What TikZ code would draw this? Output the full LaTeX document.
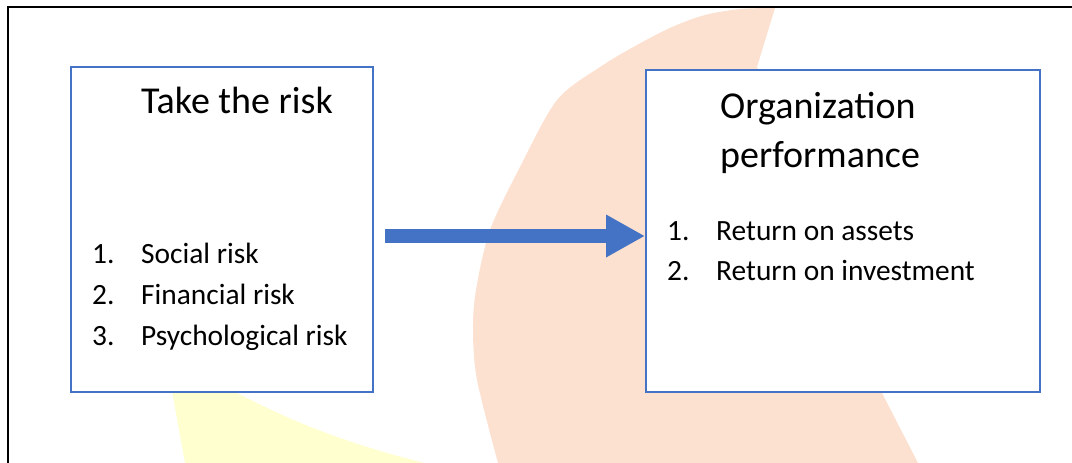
\documentclass[tikz,border=0pt]{standalone}
\usepackage{fontspec}
\setmainfont{Carlito}
\usetikzlibrary{arrows.meta}
\definecolor{boxblue}{HTML}{4472C4}
\definecolor{peach}{HTML}{FDE1D0}
\definecolor{paleyellow}{HTML}{FFFFD0}
\tikzset{
  box/.style={draw=boxblue, line width=2pt, fill=white, inner sep=0pt},
  titletext/.style={anchor=base west, inner sep=0pt, font=\fontsize{38}{45}\selectfont},
  itemtext/.style={anchor=base west, inner sep=0pt, font=\fontsize{29.4}{35}\selectfont},
  bigarrow/.style={draw=boxblue, line width=14pt, -{Triangle[length=39pt,width=40pt]}},
  frameline/.style={draw=black, line width=1.6pt}
}
\begin{document}
\begin{tikzpicture}[x=1pt,y=-1pt]
\useasboundingbox (0,0) rectangle (1072,463);
% watermark shapes
\fill[paleyellow] (170,380) -- (185,463) -- (425,463)
  .. controls (330,440) and (270,410) .. (237,393) -- (237,380) -- cycle;
\fill[peach] plot[smooth] coordinates {(775,8) (740,9) (705,15) (672,27) (637,45) (600,67) (557,100) (520,167) (490,230) (476,290) (473,330) (477,380) (498,463)}
  -- (918,463) -- (882,393) -- (757,67) -- cycle;
% frame
\coordinate (fbl) at (8,463);
\coordinate (ftl) at (8,7);
\coordinate (ftr) at (1072,7);
\draw[frameline] (fbl) -- (ftl) -- (ftr);
% boxes
\node[box, minimum width=302pt, minimum height=325pt] (L) at (222,229.5) {};
\node[box, minimum width=394pt, minimum height=322pt] (R) at (843,231) {};
% left texts
\node[titletext] (lt) at (141,113) {Take the risk};
\node[itemtext] (ln1) at (92,263) {1.};
\node[itemtext] (li1) at (141,263) {Social risk};
\node[itemtext] (ln2) at (92,304) {2.};
\node[itemtext] (li2) at (141,304) {Financial risk};
\node[itemtext] (ln3) at (92,345) {3.};
\node[itemtext] (li3) at (141,345) {Psychological risk};
% right texts
\node[titletext] (rt1) at (720,118) {Organization};
\node[titletext] (rt2) at (720,167) {performance};
\node[itemtext] (rn1) at (667,240) {1.};
\node[itemtext] (ri1) at (716,240) {Return on assets};
\node[itemtext] (rn2) at (667,280) {2.};
\node[itemtext] (ri2) at (716,280) {Return on investment};
% arrow
\coordinate (as) at (385,236);
\draw[bigarrow] (as) -- (as -| R.west);
\end{tikzpicture}
\end{document}
